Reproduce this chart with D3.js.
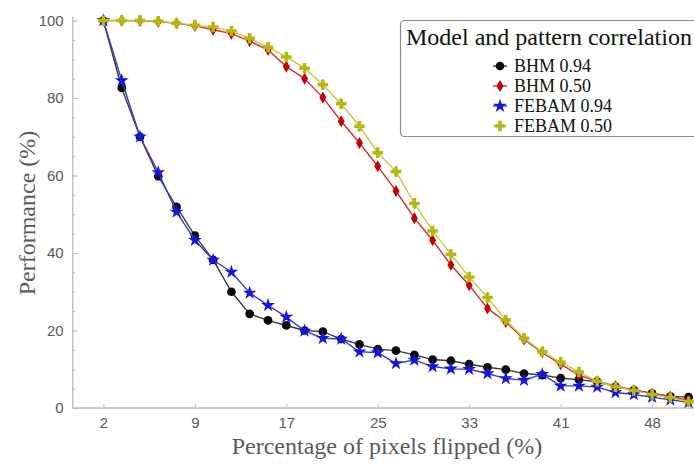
<!DOCTYPE html>
<html>
<head>
<meta charset="utf-8">
<script src="https://cdn.jsdelivr.net/npm/d3@7"></script>
<style>
  html, body { margin: 0; padding: 0; background: #fff; }
  svg { display: block; }
</style>
</head>
<body>
<svg id="chart" width="694" height="464"></svg>
<script>
// Percentage of pixels flipped at each test step
const flipped = [1.56, 3.13, 4.69, 6.25, 7.81, 9.38, 10.94, 12.5, 14.06, 15.63, 17.19,
  18.75, 20.31, 21.88, 23.44, 25, 26.56, 28.13, 29.69, 31.25, 32.81, 34.38, 35.94,
  37.5, 39.06, 40.63, 42.19, 43.75, 45.31, 46.88, 48.44, 50, 51.56];

// Recall performance (%) per model / pattern correlation
const bhm094 = [100, 82.6, 70, 59.8, 51.9, 44.5, 38.2, 30.0, 24.3, 22.6, 21.3, 20.0,
  19.7, 17.8, 16.4, 15.2, 14.8, 13.7, 12.5, 12.2, 11.3, 10.5, 9.9, 8.9, 8.5, 7.7,
  7.3, 6.8, 5.5, 4.6, 3.8, 3.0, 2.8];
const bhm050 = [100, 100, 99.9, 99.7, 99.3, 98.6, 97.6, 96.6, 94.7, 92.4, 88.1, 85.0,
  80.1, 74.0, 68.4, 62.4, 56.0, 49.0, 43.3, 36.9, 31.7, 25.7, 22.2, 17.7, 14.3, 11.3,
  8.5, 6.9, 5.7, 4.6, 3.7, 2.9, 2.0];
const febam094 = [100, 84.5, 70, 60.8, 50.6, 43.3, 38.2, 35.1, 29.7, 26.5, 23.5, 19.9,
  18.0, 17.8, 14.5, 14.3, 11.5, 12.4, 10.7, 10.1, 10.0, 8.9, 7.6, 7.2, 8.7, 5.7, 5.7,
  5.4, 4.0, 3.5, 2.8, 2.1, 1.5];
const febam050 = [100, 100, 100, 99.8, 99.3, 98.8, 98.3, 97.3, 95.4, 93.1, 90.6, 87.7,
  83.4, 78.5, 72.7, 65.9, 61.0, 52.8, 45.7, 39.7, 33.8, 28.5, 22.7, 18.0, 14.5, 11.8,
  9.3, 6.9, 5.5, 4.5, 3.5, 2.7, 1.6];

const seriesNames = ["BHM 0.94", "BHM 0.50", "FEBAM 0.94", "FEBAM 0.50"];

// x tick positions (flipped %) and their printed labels
const xTickValues = [1.56, 9.38, 17.19, 25, 32.81, 40.63, 48.44];
const xTickLabels = ["2", "9", "17", "25", "33", "41", "48"];
const yTickValues = [0, 20, 40, 60, 80, 100];

const series = [
  { name: seriesNames[0], values: bhm094, line: "#3a3a3a", fill: "#0a0a0a", symbol: d3.symbolCircle, size: 60 },
  { name: seriesNames[1], values: bhm050, line: "#cc3333", fill: "#c40000", symbol: d3.symbolDiamond, size: 42 },
  { name: seriesNames[2], values: febam094, line: "#3b3bc8", fill: "#1616d8", symbol: d3.symbolStar, size: 60 },
  { name: seriesNames[3], values: febam050, line: "#c9c93a", fill: "#b6b614", symbol: d3.symbolCross, size: 62 }
];

const svg = d3.select("#chart");
const axisColor = "#bdbdbd";
const textColor = "#5a5a5a";

const x = d3.scaleLinear().domain([-1.06, 54.2]).range([72.7, 719.5]);
const y = d3.scaleLinear().domain([0, 100]).range([408, 20.5]);

// Axes
const gx = svg.append("g").attr("transform", "translate(0,408)");
gx.call(d3.axisBottom(x).tickValues(xTickValues)
  .tickFormat((d, i) => xTickLabels[i]).tickSize(-4).tickPadding(9));
gx.select(".domain").remove();
gx.append("line").attr("x1", 72.7).attr("x2", 694).attr("y1", 0).attr("y2", 0)
  .attr("stroke", axisColor).attr("stroke-width", 1.3);
gx.selectAll(".tick line").attr("stroke", axisColor);
gx.selectAll(".tick text").attr("fill", textColor)
  .style("font-family", "'Liberation Sans', Arial, sans-serif").style("font-size", "15px");

const gyMinor = svg.append("g").attr("transform", "translate(72.7,0)");
gyMinor.call(d3.axisLeft(y).ticks(20).tickSize(-2.5).tickFormat(""));
gyMinor.select(".domain").remove();
gyMinor.selectAll(".tick line").attr("stroke", axisColor);

const gy = svg.append("g").attr("transform", "translate(72.7,0)");
gy.call(d3.axisLeft(y).tickValues(yTickValues).tickSize(-5).tickPadding(9));
gy.select(".domain").remove();
gy.append("line").attr("x1", 0).attr("x2", 0).attr("y1", 408).attr("y2", 17)
  .attr("stroke", axisColor).attr("stroke-width", 1.3);
gy.selectAll(".tick line").attr("stroke", axisColor);
gy.selectAll(".tick text").attr("fill", textColor)
  .style("font-family", "'Liberation Sans', Arial, sans-serif").style("font-size", "15px");

// Axis titles
svg.append("text")
  .attr("x", 387).attr("y", 454)
  .attr("text-anchor", "middle")
  .attr("fill", textColor)
  .style("font-family", "'Liberation Serif', 'Times New Roman', serif")
  .style("font-size", "24px")
  .text("Percentage of pixels flipped (%)");

svg.append("text")
  .attr("transform", "translate(35,213) rotate(-90)")
  .attr("text-anchor", "middle")
  .attr("fill", textColor)
  .style("font-family", "'Liberation Serif', 'Times New Roman', serif")
  .style("font-size", "24px")
  .text("Performance (%)");

// Series: lines then markers
const line = d3.line().x((d, i) => x(flipped[i])).y(d => y(d));
const plot = svg.append("g");
series.forEach(s => {
  const g = plot.append("g");
  g.append("path").datum(s.values)
    .attr("d", line).attr("fill", "none")
    .attr("stroke", s.line).attr("stroke-width", 1.4);
  g.selectAll("path.m").data(s.values).enter().append("path")
    .attr("class", "m")
    .attr("transform", (d, i) => `translate(${x(flipped[i])},${y(d)})`)
    .attr("d", d3.symbol().type(s.symbol).size(s.size))
    .attr("fill", s.fill);
});

// Legend
const lg = svg.append("g");
lg.append("rect")
  .attr("x", 400.5).attr("y", 20.5).attr("width", 320).attr("height", 116)
  .attr("rx", 4).attr("fill", "#fff")
  .attr("stroke", "#8a8a8a").attr("stroke-width", 1.2);
lg.append("text")
  .attr("x", 406).attr("y", 45)
  .attr("fill", "#111")
  .style("font-family", "'Liberation Serif', 'Times New Roman', serif")
  .style("font-size", "24px")
  .text("Model and pattern correlation");
series.forEach((s, i) => {
  const yy = 66 + i * 20;
  lg.append("line").attr("x1", 493).attr("x2", 507).attr("y1", yy).attr("y2", yy)
    .attr("stroke", s.line).attr("stroke-width", 1.4);
  lg.append("path")
    .attr("transform", `translate(500,${yy})`)
    .attr("d", d3.symbol().type(s.symbol).size(s.size))
    .attr("fill", s.fill);
  lg.append("text")
    .attr("x", 514).attr("y", yy + 6)
    .attr("fill", "#111")
    .style("font-family", "'Liberation Serif', 'Times New Roman', serif")
    .style("font-size", "18px")
    .text(s.name);
});
</script>
</body>
</html>
